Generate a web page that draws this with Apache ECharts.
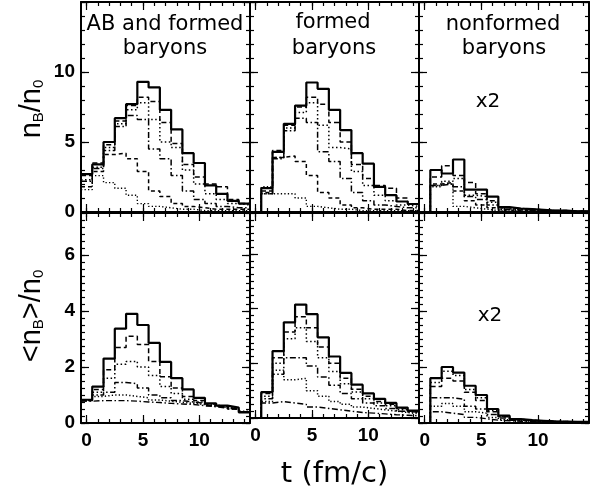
<!DOCTYPE html>
<html><head><meta charset="utf-8">
<script src="https://cdn.jsdelivr.net/npm/echarts@6/dist/echarts.min.js"></script>
<style>html,body{margin:0;padding:0;background:#fff}#c{width:600px;height:490px}</style>
</head><body><div id="c"></div><script>
// bin centres t (fm/c), bins of width 1
const tBins = [0,1,2,3,4,5,6,7,8,9,10,11,12,13,14];

// top-left: AB and formed baryons, n_B/n_0
const abSolid   = [2.7,3.4,5.0,6.7,7.7,9.3,8.9,7.3,5.9,4.2,3.5,1.9,1.3,0.8,0.6];
const abDash    = [2.6,3.5,4.8,6.5,7.6,8.2,7.9,6.4,4.9,3.4,2.5,2.0,1.8,0.9,0.6];
const abDot     = [2.3,3.2,4.6,6.3,7.3,7.8,6.6,5.0,4.6,3.0,2.0,1.3,0.9,0.6,0.5];
const abDashDot = [2.2,3.1,4.4,6.1,6.9,6.6,4.5,3.8,2.6,1.5,0.9,0.6,0.4,0.3,0.3];
const abDash2   = [1.8,2.9,4.1,4.2,3.8,2.9,1.5,1.1,0.6,0.4,0.3,0.2,0.2,0.2,0.2];
const abDot2    = [1.6,2.6,2.1,1.7,1.2,0.6,0.4,0.3,0.2,0.2,0.1,0.1,0.1,0.1,0.1];

// top-middle: formed baryons
const fSolid   = [0,1.7,4.3,6.3,7.6,9.25,8.8,7.3,5.85,4.2,3.45,1.8,1.2,0.75,0.57];
const fDash    = [0,1.5,4.4,6.2,7.5,8.2,7.7,6.4,5.0,3.4,2.4,1.9,1.7,1.0,0.55];
const fDot     = [0,1.3,3.9,6.0,7.1,7.8,6.2,4.6,4.5,2.9,1.9,1.2,0.8,0.5,0.4];
const fDashDot = [0,1.3,3.8,5.8,6.7,6.4,4.3,3.6,2.4,1.4,0.8,0.5,0.4,0.3,0.3];
const fDash2   = [0,1.4,3.9,4.0,3.6,2.6,1.4,1.0,0.5,0.3,0.2,0.2,0.2,0.1,0.1];
const fDot2    = [0,1.8,1.3,1.3,1.0,0.4,0.3,0.2,0.2,0.1,0.1,0.1,0.1,0.1,0.1];

// top-right: nonformed baryons (x2)
const nfSolid   = [0,3.0,2.75,3.75,1.6,1.6,1.1,0.35,0.25,0.2,0.15,0.1,0.1,0.05,0.05];
const nfDash    = [0,2.5,3.3,2.6,2.1,1.3,0.8,0.3,0.25,0.2,0.15,0.1,0.1,0.05,0.05];
const nfDot     = [0,1.9,2.2,2.4,1.2,1.1,0.7,0.3,0.2,0.15,0.1,0.1,0.05,0.05,0.05];
const nfDashDot = [0,1.9,2.0,1.8,1.1,0.9,0.5,0.2,0.15,0.1,0.1,0.05,0.05,0.05,0.05];
const nfDash2   = [0,2.0,2.1,1.5,0.8,0.5,0.3,0.15,0.1,0.1,0.05,0.05,0.05,0.05,0.05];
const nfDot2    = [0,1.8,2.0,0.4,0.3,0.2,0.1,0.1,0.05,0.05,0.05,0.05,0.05,0.05,0.05];

// bottom-left: AB and formed, <n_B>/n_0
const abmSolid    = [0.83,1.3,2.3,3.37,3.9,3.5,2.86,2.18,1.6,1.2,0.9,0.7,0.62,0.55,0.38];
const abmDash     = [0.8,1.2,1.9,2.7,3.1,2.8,2.2,1.65,1.25,0.95,0.8,0.68,0.6,0.5,0.4];
const abmDot      = [0.8,1.1,1.6,2.1,2.2,2.0,1.7,1.3,1.05,0.85,0.75,0.65,0.58,0.5,0.4];
const abmDashDot  = [0.8,1.0,1.1,1.45,1.4,1.25,1.0,0.9,0.8,0.75,0.7,0.62,0.56,0.5,0.4];
const abmDot2     = [0.8,0.95,1.0,1.0,0.95,0.9,0.82,0.78,0.74,0.7,0.66,0.6,0.55,0.5,0.42];
const abmDashDot2 = [0.78,0.8,0.8,0.8,0.78,0.75,0.73,0.7,0.68,0.66,0.62,0.58,0.53,0.48,0.4];

// bottom-middle: formed
const fmSolid    = [0,0.95,2.45,3.5,4.15,3.8,2.95,2.25,1.65,1.22,0.9,0.7,0.55,0.38,0.27];
const fmDash     = [0,0.9,2.2,3.15,3.7,3.3,2.6,2.0,1.45,1.05,0.8,0.6,0.5,0.35,0.25];
const fmDot      = [0,0.8,2.0,2.9,3.3,2.8,2.2,1.7,1.25,0.95,0.7,0.55,0.45,0.3,0.22];
const fmDashDot  = [0,0.7,1.6,2.2,2.2,1.9,1.5,1.2,0.9,0.7,0.55,0.45,0.35,0.25,0.2];
const fmDot2     = [0,0.6,1.75,1.4,1.45,1.0,0.8,0.6,0.5,0.4,0.35,0.3,0.25,0.2,0.15];
const fmDashDot2 = [0,0.55,0.6,0.55,0.5,0.4,0.35,0.3,0.25,0.2,0.18,0.15,0.12,0.1,0.08];

// bottom-right: nonformed (x2)
const nfmSolid    = [0,1.6,2.0,1.8,1.33,1.0,0.5,0.26,0.14,0.1,0.08,0.06,0.05,0.04,0.04];
const nfmDot      = [0,1.45,1.85,1.7,1.2,0.9,0.45,0.24,0.13,0.1,0.07,0.06,0.05,0.04,0.04];
const nfmDash     = [0,1.3,1.6,1.5,1.1,0.8,0.4,0.22,0.12,0.09,0.07,0.05,0.05,0.04,0.03];
const nfmDashDot  = [0,0.9,0.9,0.85,0.6,0.5,0.3,0.18,0.1,0.08,0.06,0.05,0.04,0.03,0.03];
const nfmDot2     = [0,0.6,0.7,0.6,0.4,0.35,0.2,0.12,0.08,0.06,0.05,0.04,0.03,0.03,0.02];
const nfmDashDot2 = [0,0.4,0.35,0.3,0.2,0.15,0.1,0.08,0.06,0.05,0.04,0.03,0.03,0.02,0.02];

// tick labels / tick positions
const xTickLabels = [0,5,10];
const xMinorTicks = tBins;
const yTopLabels = [0,5,10];
const yTopMajor = [0,5,10,15];
const yTopMinor = [0,1,2,3,4,5,6,7,8,9,10,11,12,13,14,15];
const yBotLabels = [0,2,4,6];
const yBotMinor = [];
for (let v = 0; v <= 7.5; v += 0.25) yBotMinor.push(v);

const panels = [
  {col:0,row:0,curves:[abSolid,abDash,abDot,abDashDot,abDash2,abDot2]},
  {col:1,row:0,curves:[fSolid,fDash,fDot,fDashDot,fDash2,fDot2]},
  {col:2,row:0,curves:[nfSolid,nfDash,nfDot,nfDashDot,nfDash2,nfDot2]},
  {col:0,row:1,curves:[abmSolid,abmDash,abmDot,abmDashDot,abmDot2,abmDashDot2]},
  {col:1,row:1,curves:[fmSolid,fmDash,fmDot,fmDashDot,fmDot2,fmDashDot2]},
  {col:2,row:1,curves:[nfmSolid,nfmDash,nfmDot,nfmDashDot,nfmDot2,nfmDashDot2]}
];
const lineTypesTop = ['solid',[5,3],[1.5,2.5],[6,2.5,1.5,2.5],[4,3],[1.3,2.2]];
const lineTypesBot = ['solid',[5,3],[1.5,2.5],[6,2.5,1.5,2.5],[1.3,2.2],[6,2.5,1.5,2.5]];
const lineWidths = [2.2,1.5,1.5,1.5,1.5,1.4];

const colLeft = [81,250,419];
const colWidth = [169,169,170];
const rowTop = [2,213];
const rowHeight = [210,210];

const grid = [], xAxis = [], yAxis = [], series = [];
const black = '#000';
const labelFont = {color:black,fontSize:19,fontWeight:'bold',fontFamily:'Liberation Sans'};

function xAx(g, pos, ticks, len, showLine, labels, extra) {
  return Object.assign({
    type:'value', gridIndex:g, min:-0.5, max:14.5, position:pos,
    axisLine:{show:showLine,onZero:false,lineStyle:{color:black,width:2}},
    axisTick:{show:true,inside:true,length:len,customValues:ticks,lineStyle:{color:black,width:1.2}},
    axisLabel:labels ? Object.assign({show:true,customValues:labels,margin:8},labelFont) : {show:false},
    splitLine:{show:false}
  }, extra||{});
}
function yAx(g, pos, max, ticks, len, showLine, labels) {
  return {
    type:'value', gridIndex:g, min:0, max:max, position:pos,
    axisLine:{show:showLine,onZero:false,lineStyle:{color:black,width:2}},
    axisTick:{show:true,inside:true,length:len,customValues:ticks,lineStyle:{color:black,width:1.2}},
    axisLabel:labels ? Object.assign({show:true,customValues:labels,margin:6},labelFont) : {show:false},
    splitLine:{show:false}
  };
}

panels.forEach((p, g) => {
  grid.push({left:colLeft[p.col], top:rowTop[p.row], width:colWidth[p.col], height:rowHeight[p.row]});
  const bottomRow = p.row === 1;
  let xExtra = null;
  if (bottomRow && p.col === 1) {
    xExtra = {name:'t (fm/c)', nameLocation:'middle', nameGap:42,
      nameTextStyle:{fontSize:29,fontFamily:'DejaVu Sans',color:black,fontWeight:'normal'}};
  }
  xAxis.push(xAx(g,'bottom',xTickLabels,8,true,bottomRow?xTickLabels:null,xExtra));
  xAxis.push(xAx(g,'bottom',xMinorTicks,4,false,null));
  xAxis.push(xAx(g,'top',xTickLabels,8,true,null));
  xAxis.push(xAx(g,'top',xMinorTicks,4,false,null));

  const ymax = bottomRow ? 7.5 : 15;
  const major = bottomRow ? yBotLabels : yTopMajor;
  const minor = bottomRow ? yBotMinor : yTopMinor;
  const labs = p.col === 0 ? (bottomRow ? yBotLabels : yTopLabels) : null;
  yAxis.push(yAx(g,'left',ymax,major,8,true,labs));
  yAxis.push(yAx(g,'left',ymax,minor,4,false,null));
  yAxis.push(yAx(g,'right',ymax,major,8,true,null));
  yAxis.push(yAx(g,'right',ymax,minor,4,false,null));

  const types = bottomRow ? lineTypesBot : lineTypesTop;
  p.curves.forEach((vals, k) => {
    const pts = [];
    vals.forEach((v, i) => { pts.push([tBins[i]-0.5, v]); pts.push([tBins[i]+0.5, v]); });
    series.push({
      type:'line', xAxisIndex:g*4, yAxisIndex:g*4, data:pts, symbol:'none', silent:true,
      lineStyle:{color:black,width:lineWidths[k],type:types[k]}, z: 10-k
    });
  });
});

function txt(x, y, s, size) {
  return {type:'text', x:x, y:y, silent:true,
    style:{text:s, fontSize:size||21, fontFamily:'DejaVu Sans', fill:black,
      align:'center', verticalAlign:'middle', textAlign:'center', textVerticalAlign:'middle'}};
}
const titleRich = {
  n:{fontSize:29,fontFamily:'Liberation Sans',fill:black,color:black,lineHeight:32,verticalAlign:'bottom'},
  s:{fontSize:15,fontFamily:'Liberation Sans',fill:black,color:black,lineHeight:16,verticalAlign:'bottom'}
};
function vtitle(x, y, s) {
  return {type:'text', x:x, y:y, rotation:Math.PI/2, silent:true,
    style:{text:s, rich:titleRich, fill:black,
      align:'center', verticalAlign:'middle', textAlign:'center', textVerticalAlign:'middle'}};
}

const chart = echarts.init(document.getElementById('c'), null, {renderer:'canvas'});
chart.setOption({
  animation:false,
  backgroundColor:'#fff',
  grid, xAxis, yAxis, series,
  graphic:[
    txt(165,25,'AB and formed'), txt(165,49,'baryons'),
    txt(333,23,'formed'), txt(334,49,'baryons'),
    txt(503,25,'nonformed'), txt(504,49,'baryons'),
    txt(488,102,'x2',20), txt(490,316,'x2',20),
    vtitle(30,109,'{n|n}{s|B}{n|/n}{s|0}'),
    vtitle(30,316,'{n|<n}{s|B}{n|>/n}{s|0}')
  ]
});
</script></body></html>
